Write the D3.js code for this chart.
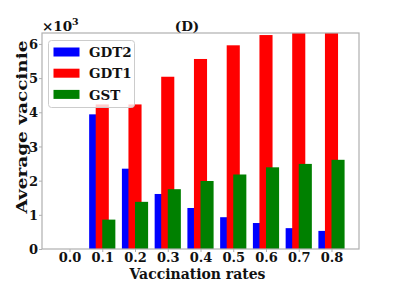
<!DOCTYPE html>
<html><head><meta charset="utf-8">
<script src="https://cdn.jsdelivr.net/npm/d3@7"></script>
<style>body{margin:0;background:#fff}svg{display:block}text{font-family:"DejaVu Serif",serif;font-weight:bold;fill:#111}</style>
</head><body><div id="c"></div>
<script>
const categories = ["0.0","0.1","0.2","0.3","0.4","0.5","0.6","0.7","0.8"];
const seriesNames = ["GDT2","GDT1","GST"];
const seriesColors = ["#0000ff","#ff0000","#008000"];
const gdt2 = [0, 3.94, 2.35, 1.61, 1.20, 0.93, 0.76, 0.61, 0.53];
const gdt1 = [0, 4.23, 4.23, 5.04, 5.56, 5.96, 6.26, 6.50, 6.70];
const gst  = [0, 0.86, 1.38, 1.75, 1.99, 2.18, 2.39, 2.49, 2.61];
const yTicks = [0,1,2,3,4,5,6];
const seriesValues = [gdt2, gdt1, gst];

const W=399,H=300, L=42, R=359, T=33, B=249;
const svg=d3.select("#c").append("svg").attr("width",W).attr("height",H);
const x=d3.scaleLinear().domain([-0.84,8.84]).range([L,R]);
const y=d3.scaleLinear().domain([0,6.32]).range([B,T]);
const bw=0.4, offs=[-0.2,0,0.2];
svg.append("defs").append("clipPath").attr("id","clip").append("rect")
  .attr("x",L).attr("y",T).attr("width",R-L).attr("height",B-T);
const g=svg.append("g").attr("clip-path","url(#clip)");
seriesValues.forEach((vals,si)=>{
  g.selectAll(null).data(vals).join("rect")
   .attr("x",(d,i)=>x(i+offs[si]-bw/2))
   .attr("width",x(bw)-x(0))
   .attr("y",d=>y(d)).attr("height",d=>y(0)-y(d))
   .attr("fill",seriesColors[si]);
});
// frame
svg.append("rect").attr("x",L).attr("y",T).attr("width",R-L).attr("height",B-T)
  .attr("fill","none").attr("stroke","#b0b0b0").attr("stroke-width",1.2);
// axes
const xa=svg.append("g").attr("transform",`translate(0,${B})`)
  .call(d3.axisBottom(x).tickValues(d3.range(categories.length)).tickFormat(i=>categories[i]).tickSize(3).tickPadding(1));
const ya=svg.append("g").attr("transform",`translate(${L},0)`)
  .call(d3.axisLeft(y).tickValues(yTicks).tickFormat(d3.format("d")).tickSize(3).tickPadding(1));
[xa,ya].forEach(a=>{a.select(".domain").remove();a.selectAll(".tick line").attr("stroke","#b0b0b0");
  a.selectAll("text").attr("font-size",13).attr("font-family","DejaVu Serif").attr("font-weight","bold").attr("fill","#111");});
xa.selectAll("text").attr("dy",null).attr("y",12.5);
ya.selectAll("text").attr("dy",null).attr("y",4.7);
// labels
svg.append("text").attr("x",(L+R)/2-3).attr("y",279).attr("text-anchor","middle").attr("font-size",15)
  .attr("textLength",136).attr("lengthAdjust","spacingAndGlyphs").text("Vaccination rates");
svg.append("text").attr("transform",`translate(27,127) rotate(-90)`).attr("text-anchor","middle").attr("font-size",15.5)
  .attr("textLength",173).attr("lengthAdjust","spacingAndGlyphs").text("Average vaccinie");
svg.append("text").attr("x",187).attr("y",31).attr("text-anchor","middle").attr("font-size",13.5).text("(D)");
const sx=svg.append("text").attr("x",L).attr("y",31).attr("font-size",13.5);
sx.append("tspan").text("×10");
sx.append("tspan").attr("dy",-6).attr("font-size",9.5).text("3");
// legend
const lg=svg.append("g");
lg.append("rect").attr("x",48.5).attr("y",40.5).attr("width",86).attr("height",67).attr("rx",3)
  .attr("fill","rgba(255,255,255,0.8)").attr("stroke","#cccccc");
seriesNames.forEach((n,i)=>{
  const cy=52+i*21.2;
  lg.append("rect").attr("x",53.5).attr("y",cy-4.5).attr("width",26).attr("height",9).attr("fill",seriesColors[i]);
  lg.append("text").attr("x",89).attr("y",cy+5.2).attr("font-size",13.5).text(n);
});
</script></body></html>
